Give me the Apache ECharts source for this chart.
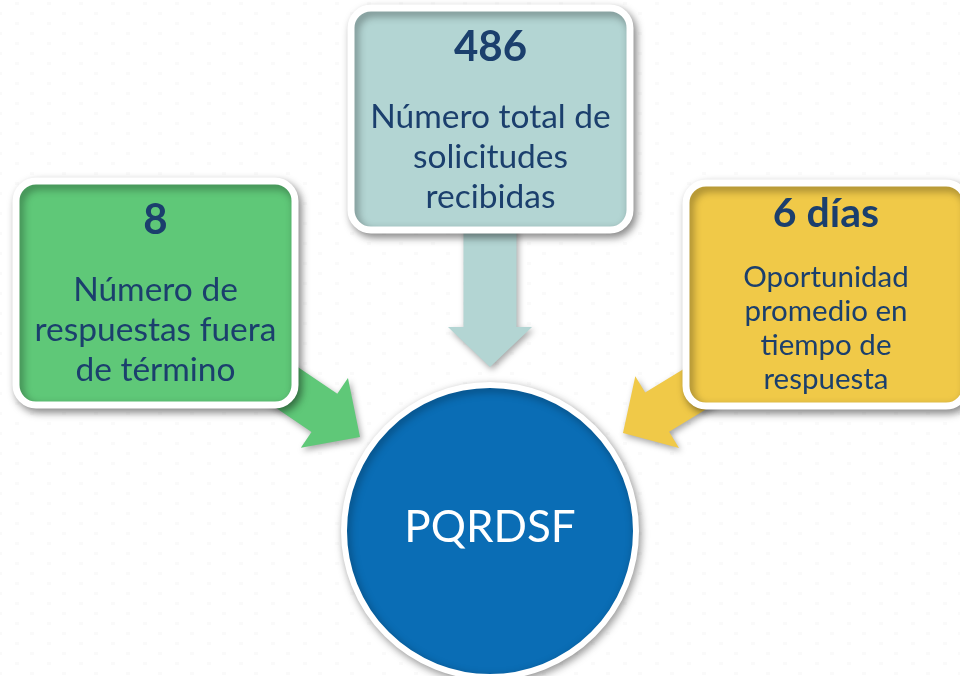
<!DOCTYPE html>
<html>
<head>
<meta charset="utf-8">
<script src="https://cdn.jsdelivr.net/npm/echarts@6/dist/echarts.min.js"></script>
<style>
  html, body { margin: 0; padding: 0; background: #ffffff; }
  #main { width: 960px; height: 676px; }
</style>
</head>
<body>
<div id="main"></div>
<script>
var myChart = echarts.init(document.getElementById('main'));

// datos
var metricValues = ['486', '8', '6 días'];
var metricLabels = [
    'Número total de\nsolicitudes\nrecibidas',
    'Número de\nrespuestas fuera\nde término',
    'Oportunidad\npromedio en\ntiempo de\nrespuesta'
];
var centerLabel = 'PQRDSF';

// posiciones (pixeles sobre ejes ocultos 0-960 x 0-676)
var boxLayout = [
    { x: 351, y: 8,   w: 279, h: 222, color: '#b3d5d3', head: 42, body: 33.5, lh: 40, dHead: -72, dBody: 38 },
    { x: 16,  y: 181, w: 279, h: 224, color: '#5fc878', head: 42, body: 33.5, lh: 40, dHead: -73, dBody: 37 },
    { x: 686, y: 183, w: 280, h: 223, color: '#f0c948', head: 41, body: 29.5, lh: 34, dHead: -81, dBody: 34 }
];
var arrowLayout = [
    { tail: [490, 200], tip: [490, 367], sw: 53, hw: 84, hl: 40, color: '#b3d5d3' },
    { tail: [236, 353], tip: [360, 437], sw: 46, hw: 84, hl: 43, color: '#5fc878' },
    { tail: [751, 355], tip: [623, 433], sw: 46, hw: 84, hl: 40, color: '#f0c948' }
];
var circleLayout = { cx: 490, cy: 531, r: 146 };

var textColor = '#1b3f6d';
var fontFam = 'Lato, "Open Sans", sans-serif';

function arrowPoints(a, api) {
    var t = api.coord(a.tail), p = api.coord(a.tip);
    var dx = p[0] - t[0], dy = p[1] - t[1];
    var len = Math.sqrt(dx * dx + dy * dy);
    dx /= len; dy /= len;
    var nx = -dy, ny = dx;
    var b = [p[0] - dx * a.hl, p[1] - dy * a.hl];
    return [
        [t[0] + nx * a.sw / 2, t[1] + ny * a.sw / 2],
        [b[0] + nx * a.sw / 2, b[1] + ny * a.sw / 2],
        [b[0] + nx * a.hw / 2, b[1] + ny * a.hw / 2],
        p,
        [b[0] - nx * a.hw / 2, b[1] - ny * a.hw / 2],
        [b[0] - nx * a.sw / 2, b[1] - ny * a.sw / 2],
        [t[0] - nx * a.sw / 2, t[1] - ny * a.sw / 2]
    ];
}

// fondo con puntitos
var bg = document.createElement('canvas');
bg.width = 32; bg.height = 20;
var ctx = bg.getContext('2d');
ctx.fillStyle = '#ffffff';
ctx.fillRect(0, 0, 32, 20);
ctx.fillStyle = 'rgba(0,0,0,0.02)';
ctx.fillRect(15, 2, 4, 3);
ctx.fillRect(0, 12, 2, 3);
ctx.fillRect(30, 12, 2, 3);

option = {
    backgroundColor: { image: bg, repeat: 'repeat' },
    animation: false,
    grid: { left: 0, right: 0, top: 0, bottom: 0 },
    xAxis: { type: 'value', min: 0, max: 960, show: false },
    yAxis: { type: 'value', min: 0, max: 676, inverse: true, show: false },
    series: [
        {
            // flechas
            type: 'custom',
            z: 1,
            data: arrowLayout.map(function (a, i) { return [i]; }),
            renderItem: function (params, api) {
                var a = arrowLayout[params.dataIndex];
                return {
                    type: 'polygon',
                    shape: { points: arrowPoints(a, api) },
                    style: {
                        fill: a.color,
                        shadowBlur: 6,
                        shadowOffsetX: 2,
                        shadowOffsetY: 3,
                        shadowColor: 'rgba(0,0,0,0.35)'
                    }
                };
            }
        },
        {
            // cajas
            type: 'custom',
            z: 2,
            data: metricValues.map(function (v, i) { return [i, v, metricLabels[i]]; }),
            renderItem: function (params, api) {
                var i = params.dataIndex;
                var b = boxLayout[i];
                var p = api.coord([b.x, b.y]);
                var s = api.size([b.w, b.h]);
                var cx = p[0] + s[0] / 2, cy = p[1] + s[1] / 2;
                return {
                    type: 'group',
                    children: [
                        {
                            type: 'rect',
                            shape: { x: p[0], y: p[1], width: s[0], height: s[1], r: 20 },
                            style: {
                                fill: b.color,
                                stroke: '#ffffff',
                                lineWidth: 7,
                                shadowBlur: 8,
                                shadowOffsetX: 3,
                                shadowOffsetY: 4,
                                shadowColor: 'rgba(0,0,0,0.4)'
                            }
                        },
                        {
                            type: 'text',
                            x: cx, y: cy + b.dHead,
                            style: {
                                text: metricValues[i],
                                fill: textColor,
                                font: 'bold ' + b.head + 'px ' + fontFam,
                                align: 'center',
                                verticalAlign: 'middle'
                            }
                        },
                        {
                            type: 'text',
                            x: cx, y: cy + b.dBody,
                            style: {
                                text: metricLabels[i],
                                fill: textColor,
                                font: b.body + 'px ' + fontFam,
                                lineHeight: b.lh,
                                align: 'center',
                                verticalAlign: 'middle'
                            }
                        }
                    ]
                };
            }
        },
        {
            // circulo central
            type: 'custom',
            z: 3,
            data: [[0, centerLabel]],
            renderItem: function (params, api) {
                var c = api.coord([circleLayout.cx, circleLayout.cy]);
                var r = api.size([circleLayout.r, 0])[0];
                return {
                    type: 'group',
                    children: [
                        {
                            type: 'circle',
                            shape: { cx: c[0], cy: c[1], r: r },
                            style: {
                                fill: '#0a6db5',
                                stroke: '#ffffff',
                                lineWidth: 6,
                                shadowBlur: 8,
                                shadowOffsetX: 2,
                                shadowOffsetY: 3,
                                shadowColor: 'rgba(0,0,0,0.35)'
                            }
                        },
                        {
                            type: 'text',
                            x: c[0], y: c[1] - 3,
                            style: {
                                text: centerLabel,
                                fill: '#ffffff',
                                font: '44px ' + fontFam,
                                align: 'center',
                                verticalAlign: 'middle'
                            }
                        }
                    ]
                };
            }
        }
    ]
};

myChart.setOption(option);
</script>
</body>
</html>
